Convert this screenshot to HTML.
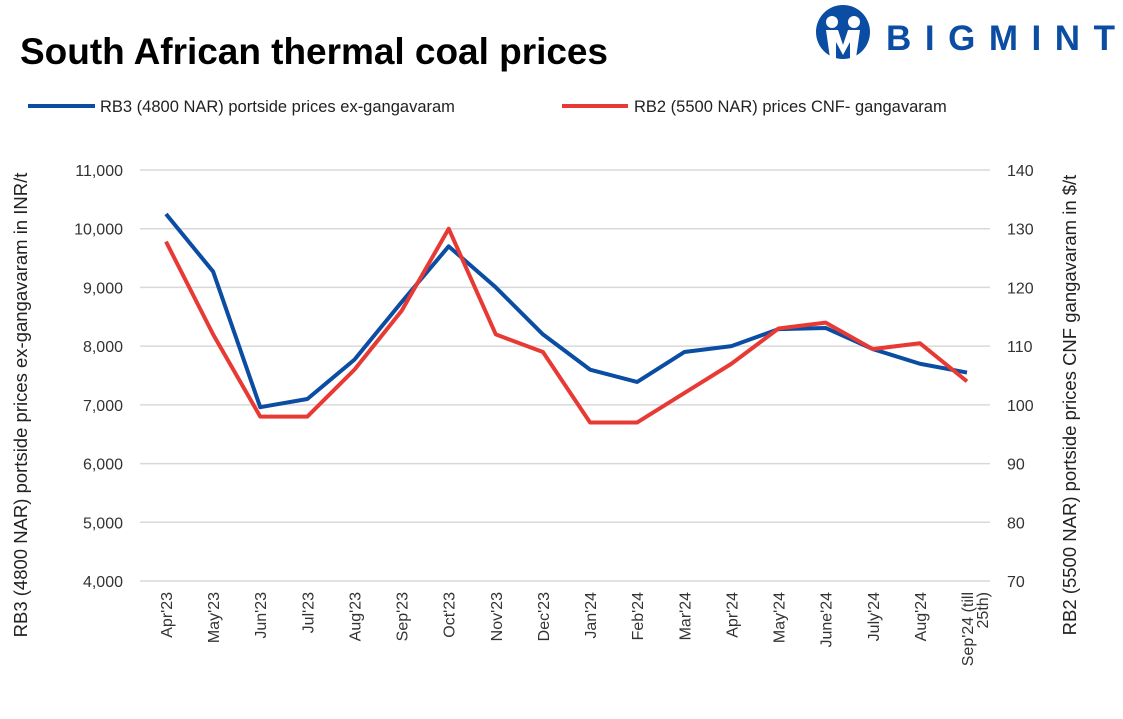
<!DOCTYPE html>
<html><head><meta charset="utf-8"><style>
body{margin:0;background:#fff;font-family:"Liberation Sans",sans-serif;}
svg text{font-family:"Liberation Sans",sans-serif;}
</style></head><body>
<svg id="c" width="1123" height="714" xmlns="http://www.w3.org/2000/svg">
<text x="20" y="64" font-size="37" font-weight="bold" fill="#000" textLength="588">South African thermal coal prices</text>
<g>
<circle cx="843" cy="32" r="27" fill="#0a4da2"/>
<circle cx="832" cy="22" r="6" fill="#fff"/><circle cx="854" cy="22" r="6" fill="#fff"/>
<path d="M826 30 L838 30 L843 45 L848 30 L860 30 L856 58 L850 58 L850 42 L843 55 L836 42 L836 58 L830 58 Z" fill="#fff"/>
<text x="886" y="50" font-size="35" font-weight="bold" fill="#0a4da2" textLength="229">BIGMINT</text>
</g>
<g>
<line x1="28" y1="106" x2="95" y2="106" stroke="#0a4da2" stroke-width="4"/>
<text x="100" y="112" font-size="16.5" fill="#222">RB3 (4800 NAR) portside prices ex-gangavaram</text>
<line x1="562" y1="106" x2="628" y2="106" stroke="#e83a35" stroke-width="4"/>
<text x="634" y="112" font-size="16.5" fill="#222">RB2 (5500 NAR) prices CNF- gangavaram</text>
</g>
<text transform="translate(27,405) rotate(-90)" text-anchor="middle" font-size="18.5" fill="#222">RB3 (4800 NAR) portside prices ex-gangavaram  in INR/t</text>
<text transform="translate(1076,405) rotate(-90)" text-anchor="middle" font-size="18.5" fill="#222">RB2 (5500 NAR) portside prices CNF  gangavaram  in $/t</text>
<g id="grid"></g><g id="series"></g><g id="labels"></g>
</svg>
<script>
const categories=["Apr'23","May'23","Jun'23","Jul'23","Aug'23","Sep'23","Oct'23","Nov'23","Dec'23","Jan'24","Feb'24","Mar'24","Apr'24","May'24","June'24","July'24","Aug'24","Sep'24 (till|25th)"];
const rb3=[10250,9270,6960,7100,7770,8750,9700,9000,8200,7600,7390,7900,8000,8290,8310,7950,7700,7550];
const rb2=[127.8,112,98,98,106,116,130,112,109,97,97,102,107,113,114,109.5,110.5,104];
const leftTicks=[4000,5000,6000,7000,8000,9000,10000,11000];
const rightTicks=[70,80,90,100,110,120,130,140];
const NS="http://www.w3.org/2000/svg";
const pTop=170,pBot=581,x0=166,x1=967,L=140,R=990;
const yL=v=>pBot-(v-4000)/7000*(pBot-pTop);
const yR=v=>pBot-(v-70)/70*(pBot-pTop);
const xS=i=>x0+i*(x1-x0)/(categories.length-1);
function mk(t,a,p){const e=document.createElementNS(NS,t);for(const k in a)e.setAttribute(k,a[k]);p.appendChild(e);return e;}
const g=document.getElementById('grid'),s=document.getElementById('series'),lb=document.getElementById('labels');
leftTicks.forEach(v=>{
 const ln=mk('line',{x1:L,x2:R,y1:yL(v),y2:yL(v),stroke:'#d9d9d9','stroke-width':1.5},g);
 
 
 const t=mk('text',{x:123,y:yL(v)+6,'text-anchor':'end','font-size':16,fill:'#333'},lb);
 t.textContent=v.toLocaleString('en-US');
 
 
});
rightTicks.forEach(v=>{
 const t=mk('text',{x:1007,y:yR(v)+6,'font-size':16,fill:'#333'},lb);
 t.textContent=v;
 
 
});
categories.forEach((c,i)=>{
 const parts=c.split('|');
 const t=mk('text',{transform:`translate(${xS(i)+6},592) rotate(-90)`,'text-anchor':'end','font-size':16,fill:'#333'},lb);
 parts.forEach((p,j)=>{const ts=mk('tspan',{x:0,dy:j?15:0},t);ts.textContent=p;});
 
 
});
const p1=mk('polyline',{points:rb3.map((v,i)=>xS(i)+','+yL(v)).join(' '),fill:'none',stroke:'#0a4da2','stroke-width':4,'stroke-linejoin':'round'},s);


const p2=mk('polyline',{points:rb2.map((v,i)=>xS(i)+','+yR(v)).join(' '),fill:'none',stroke:'#e83a35','stroke-width':4,'stroke-linejoin':'round'},s);


</script>
</body></html>
